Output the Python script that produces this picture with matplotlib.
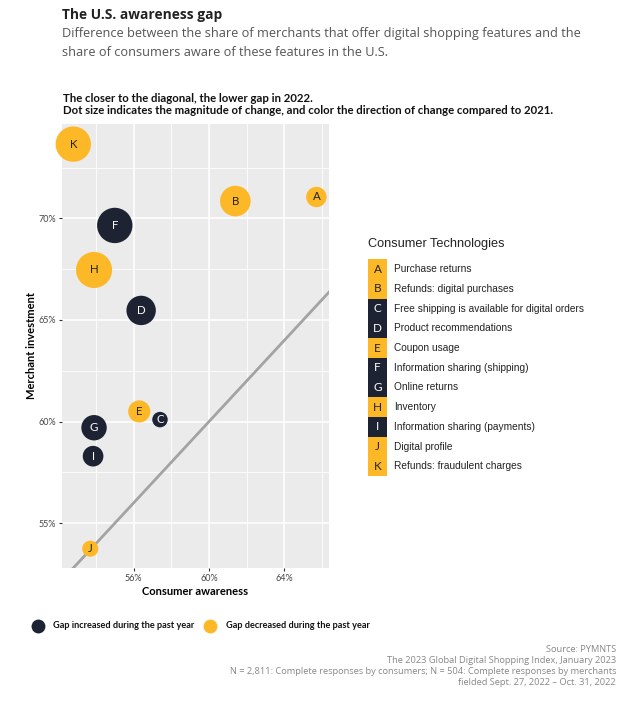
import matplotlib
matplotlib.use("Agg")
import matplotlib.pyplot as plt
import matplotlib.patches as patches
from matplotlib.ticker import FuncFormatter, MultipleLocator

# data
codes = ["A", "B", "C", "D", "E", "F", "G", "H", "I", "J", "K"]
features = [
    "Purchase returns",
    "Refunds: digital purchases",
    "Free shipping is available for digital orders",
    "Product recommendations",
    "Coupon usage",
    "Information sharing (shipping)",
    "Online returns",
    "Inventory",
    "Information sharing (payments)",
    "Digital profile",
    "Refunds: fraudulent charges",
]
consumer_awareness = [65.7, 61.4, 57.4, 56.4, 56.3, 55.0, 53.9, 53.9, 53.85, 53.7, 52.8]
merchant_investment = [71.05, 70.85, 60.1, 65.47, 60.5, 69.65, 59.7, 67.46, 58.3, 53.75, 73.65]
change_magnitude = [4.0, 9.0, 2.3, 8.3, 4.7, 12.0, 6.2, 12.5, 4.1, 2.5, 12.0]
gap_increased = [False, False, True, True, False, True, True, False, True, False, False]

DARK = "#1d2333"
YELLOW = "#fdb827"
W, H = 631, 704

plt.rcParams["font.family"] = ["Lato", "DejaVu Sans"]
fig = plt.figure(figsize=(W / 100, H / 100), dpi=100)

ax = fig.add_axes([62 / W, 1 - 568 / H, 267 / W, 444 / H])
ax.set_facecolor("#ebebeb")
ax.set_xlim(52.2, 66.37)
ax.set_ylim(52.8, 74.64)
ax.xaxis.set_major_locator(MultipleLocator(4))
ax.xaxis.set_minor_locator(MultipleLocator(2))
ax.yaxis.set_major_locator(MultipleLocator(5))
ax.yaxis.set_minor_locator(MultipleLocator(2.5))
pct = FuncFormatter(lambda v, p: f"{v:.0f}%")
ax.xaxis.set_major_formatter(pct)
ax.yaxis.set_major_formatter(pct)
ax.grid(which="major", color="white", linewidth=1.1)
ax.grid(which="minor", color="white", linewidth=0.6)
ax.set_axisbelow(True)
for s in ax.spines.values():
    s.set_visible(False)
ax.tick_params(which="major", length=2.5, width=0.8, color="#333333",
               labelsize=6.5, labelcolor="#444444", pad=2)
ax.tick_params(which="minor", length=0)

ax.plot([50, 70], [50, 70], color="#a3a3a3", linewidth=2, zorder=2)

colors = [DARK if g else YELLOW for g in gap_increased]
sizes = [54 * m for m in change_magnitude]
ax.scatter(consumer_awareness, merchant_investment, s=sizes, c=colors,
           linewidths=0, zorder=3, clip_on=False)
for code, x, y, g in zip(codes, consumer_awareness, merchant_investment, gap_increased):
    ax.text(x, y, code, ha="center", va="center", fontsize=8.3,
            color="white" if g else "#222222", zorder=4)

ax.set_xlabel("Consumer awareness", fontsize=8, fontweight="bold", labelpad=2)
ax.set_ylabel("Merchant investment", fontsize=8, fontweight="bold", labelpad=1)

# overlay in pixel units for titles and legends
ov = fig.add_axes([0, 0, 1, 1], zorder=-1)
ov.set_xlim(0, W)
ov.set_ylim(H, 0)
ov.axis("off")

ov.text(62, 15, "The U.S. awareness gap", fontsize=9.9, fontweight="bold",
        family=["Open Sans", "DejaVu Sans"], color="#222222", va="center")
ov.text(62, 33, "Difference between the share of merchants that offer digital shopping features and the",
        fontsize=9.2, family=["Open Sans", "DejaVu Sans"], color="#555555", va="center")
ov.text(62, 52, "share of consumers aware of these features in the U.S.",
        fontsize=9.2, family=["Open Sans", "DejaVu Sans"], color="#555555", va="center")
ov.text(63, 99, "The closer to the diagonal, the lower gap in 2022.", fontsize=8.2,
        fontweight="bold", color="#111111", va="center")
ov.text(63, 110, "Dot size indicates the magnitude of change, and color the direction of change compared to 2021.",
        fontsize=8.2, fontweight="bold", color="#111111", va="center")

# right legend
ov.text(368, 244, "Consumer Technologies", fontsize=9.2,
        family=["Liberation Sans", "DejaVu Sans"], color="#222222", va="center")
row_h = 19.7
for i, (code, name, g) in enumerate(zip(codes, features, gap_increased)):
    yc = 269.3 + i * row_h
    ov.add_patch(patches.Rectangle((368, yc - row_h / 2), 19, row_h,
                                   facecolor=DARK if g else YELLOW, edgecolor="none"))
    ov.text(377.5, yc, code, ha="center", va="center", fontsize=8.5,
            color="white" if g else "#222222")
    ov.text(394, yc, name, va="center", fontsize=7.3,
            family=["Liberation Sans", "DejaVu Sans"], color="#222222")

# bottom legend
ov.scatter([38], [626], s=100, color=DARK, linewidths=0)
ov.text(53, 626, "Gap increased during the past year", fontsize=6.6,
        fontweight="bold", color="#111111", va="center")
ov.scatter([210], [626], s=100, color=YELLOW, linewidths=0)
ov.text(226, 626, "Gap decreased during the past year", fontsize=6.6,
        fontweight="bold", color="#111111", va="center")

source_lines = [
    "Source: PYMNTS",
    "The 2023 Global Digital Shopping Index, January 2023",
    "N = 2,811: Complete responses by consumers; N = 504: Complete responses by merchants",
    "fielded Sept. 27, 2022 \u2013 Oct. 31, 2022",
]
for i, line in enumerate(source_lines):
    ov.text(616, 649 + i * 11.3, line, ha="right", va="center", fontsize=6.7,
            family=["Open Sans", "DejaVu Sans"], color="#888888")

fig.savefig("out.png", dpi=100)
